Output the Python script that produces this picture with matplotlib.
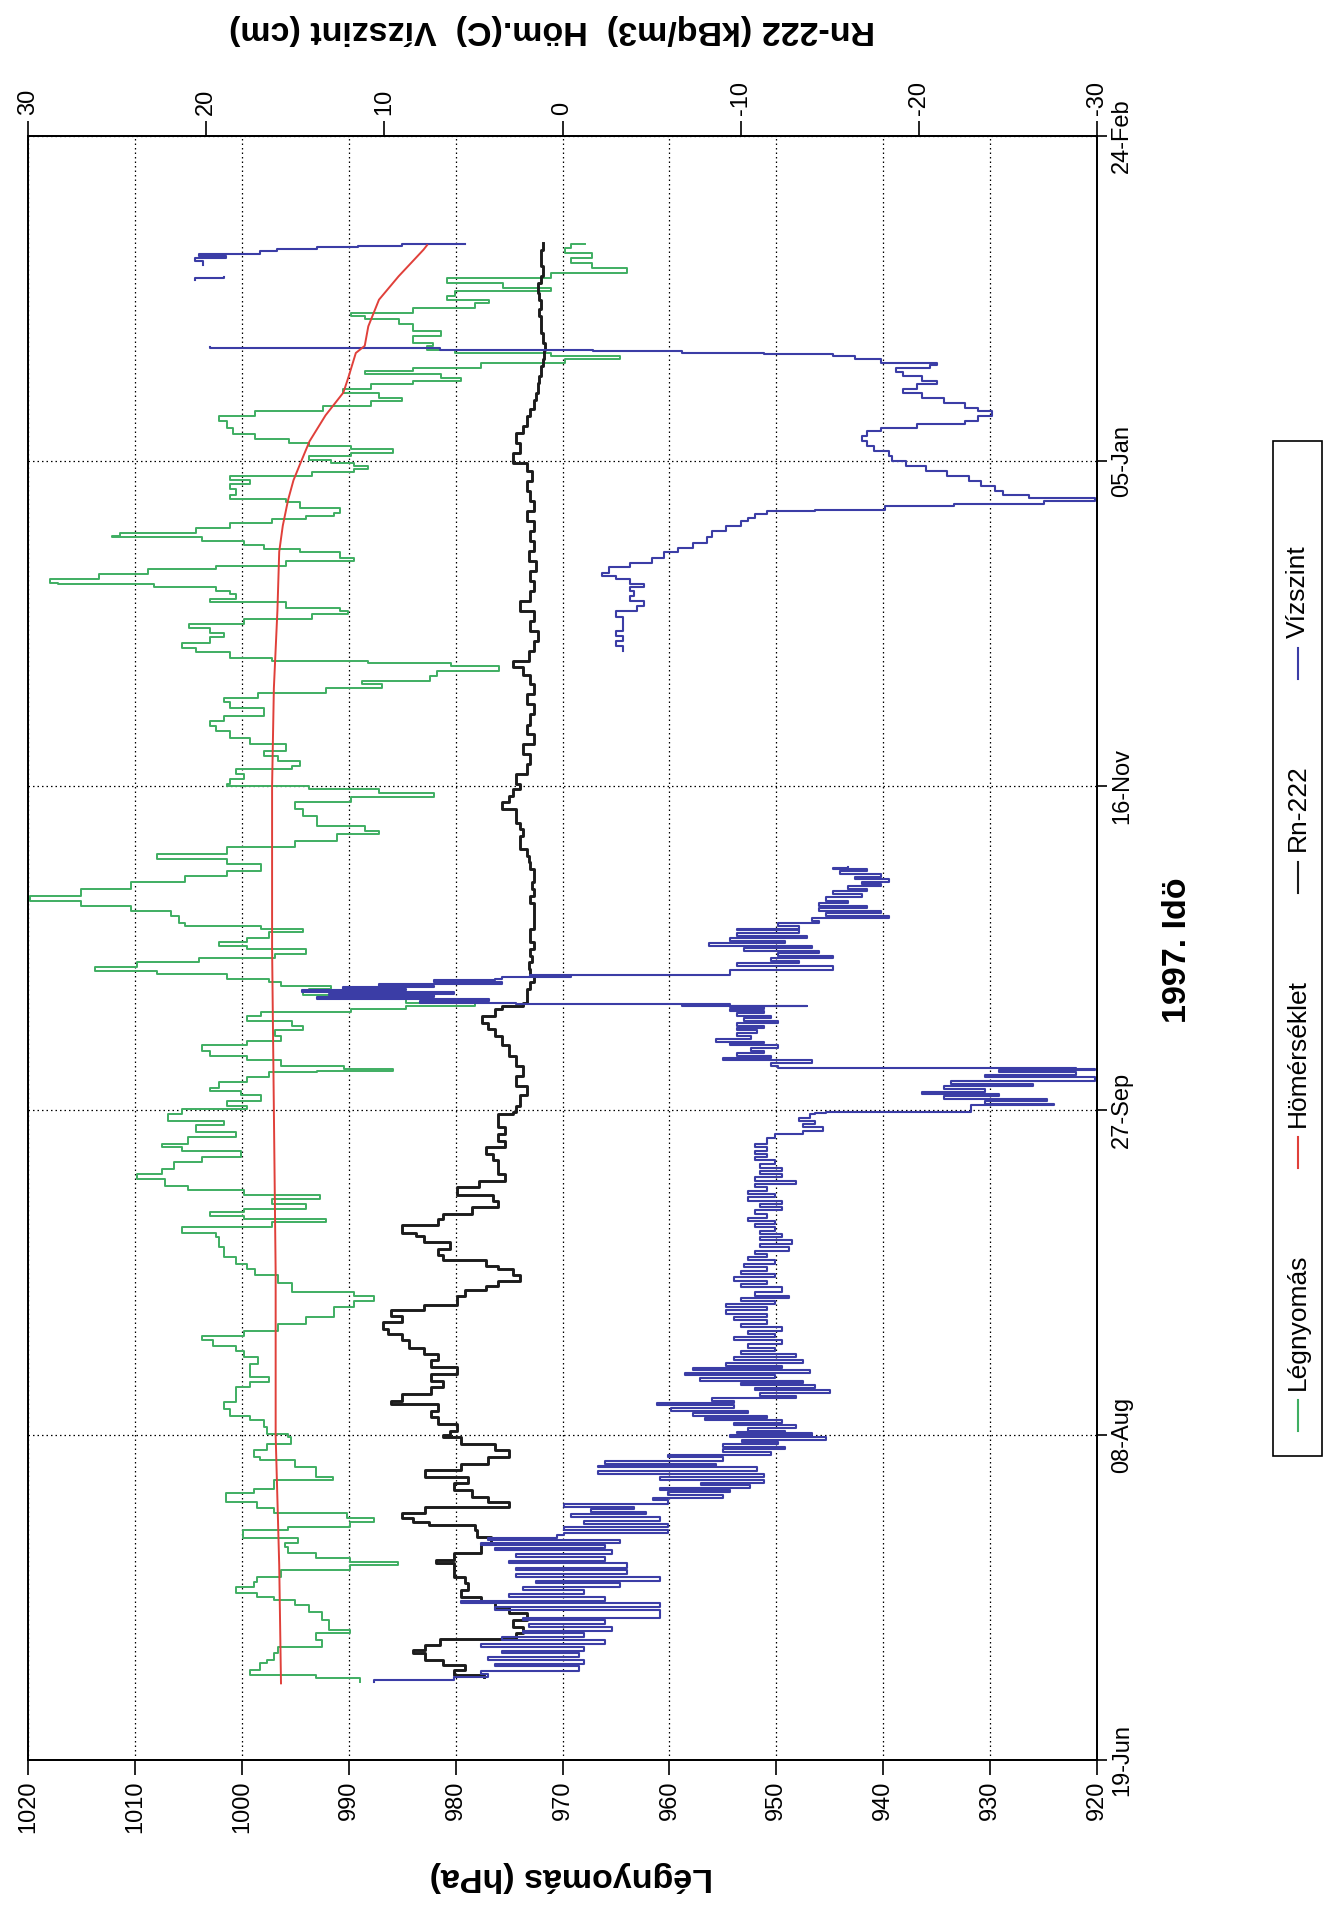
import numpy as np
import matplotlib
matplotlib.use("Agg")
import matplotlib.pyplot as plt
from matplotlib.lines import Line2D
from matplotlib.patches import Rectangle

plt.rcParams['font.family'] = ['Liberation Sans', 'DejaVu Sans']

# ---------------- data (days after 19-Jun-1997) ----------------
date_ticks = [0, 50, 100, 150, 200, 250]
date_labels = ['19-Jun', '08-Aug', '27-Sep', '16-Nov', '05-Jan', '24-Feb']
p_ticks = [1020, 1010, 1000, 990, 980, 970, 960, 950, 940, 930, 920]
r_ticks = [30, 20, 10, 0, -10, -20, -30]

# Légnyomás (hPa)
green_day = [12.05, 12.56, 13.08, 13.85, 14.87, 15.38, 16.41, 17.44, 18.46, 19.49, 20.0, 21.54, 22.82, 23.85, 24.62, 25.13, 25.64, 26.67, 27.44, 28.21, 29.23, 30.0, 30.51, 31.03, 31.79, 32.82, 33.33, 34.1, 35.38, 35.9, 36.67, 37.18, 37.95, 38.72, 39.74, 40.51, 41.03, 41.79, 43.08, 43.59, 44.36, 45.13, 46.15, 46.67, 47.69, 48.72, 49.74, 50.26,
             51.2, 52.3, 53.0, 54.1, 55.1, 56.4, 57.4, 58.2, 58.9, 60.0, 61.0, 62.0, 63.0, 63.8, 64.6, 65.3, 66.1, 67.1, 68.2, 69.7, 70.7, 71.5, 72.0, 72.8, 73.5, 74.6, 75.6, 76.4, 77.4, 78.2, 78.9, 80.5, 81.2, 82.0, 82.8, 83.3, 83.8, 84.3, 84.8, 85.6, 86.4, 86.9, 87.7, 88.4, 89.4, 90.2, 91.0, 92.0, 92.8, 93.8, 94.3, 94.8, 95.9, 96.6, 97.7, 98.4, 99.4,
             100.2, 100.7, 101.5, 102.3, 103.0, 103.5, 104.3, 105.1, 105.9, 106.1, 106.4, 106.9, 107.7, 108.4, 109.2, 110.0, 110.7, 111.5, 112.3, 113.0, 113.8, 114.6, 115.1, 115.6, 116.1, 116.6, 117.1, 117.7, 118.2, 118.7, 119.2, 119.7, 120.2, 121.0, 121.5, 122.0, 122.8, 123.5, 124.1, 124.8, 125.3, 125.9, 126.6, 127.4, 127.9, 128.4, 128.9, 130.0, 130.7, 131.5, 132.3, 133.0, 134.1, 135.1, 136.1, 136.9, 137.9, 138.7, 139.4, 140.5, 141.5, 142.5, 143.0, 143.8, 144.6, 145.3, 146.4, 147.4, 148.2, 148.9, 149.4, 149.9,
             150.2, 151.0, 151.8, 152.5, 153.0, 153.8, 154.6, 155.3, 156.4, 157.4, 158.4, 159.2, 160.0, 160.7, 161.5, 162.0, 162.8, 163.5, 164.3, 165.1, 165.6, 166.1, 166.9, 167.7, 168.2, 168.4, 168.9, 169.2, 169.7, 170.5, 171.2, 172.0, 172.8, 173.5, 174.3, 174.8, 175.6, 176.4, 176.9, 177.4, 178.2, 178.7, 179.5, 180.0, 180.5, 181.0, 181.2, 181.8, 182.5, 183.3, 183.8, 184.6, 185.1, 185.9, 186.4, 187.1, 187.7, 188.2, 188.4, 188.9, 189.7, 190.5, 191.0, 191.5, 192.0, 192.8, 193.6, 194.1, 194.8, 195.6, 196.4, 197.1, 197.7, 198.2, 198.7, 199.2,
             199.7, 200.2, 200.7, 201.2, 201.8, 202.3, 202.8, 203.3, 204.1, 205.1, 206.1, 206.9, 207.7, 208.4, 209.2, 209.7, 210.5, 211.0, 211.8, 212.3, 212.8, 213.3, 213.8, 214.3, 215.1, 215.6, 216.1, 216.6, 217.1, 217.7, 218.2, 219.2, 220.0, 221.0, 221.8, 222.3, 222.8, 223.5, 224.3, 224.8, 225.3, 226.1, 226.6, 227.4, 228.2, 228.9, 229.7, 230.5, 231.2, 232.0, 232.8, 233.3]
green_hpa = [988.9, 993.1, 999.2, 998.3, 997.6, 997.0, 996.6, 992.5, 993.1, 989.9, 991.8, 992.5, 993.7, 995.0, 997.0, 998.6, 1000.5, 998.9, 998.6, 996.3, 989.9, 985.4, 989.9, 993.1, 995.7, 996.0, 994.7, 999.9, 995.7, 989.9, 987.6, 990.2, 997.0, 998.6, 1001.5, 1001.5, 998.9, 997.0, 991.5, 993.1, 993.1, 995.0, 998.3, 998.9, 997.6, 995.4, 995.7, 997.6,
             997.9, 999.2, 1001.1, 1001.7, 1000.5, 1000.5, 999.2, 997.5, 999.2, 999.2, 998.5, 999.8, 1000.5, 1002.7, 1003.7, 999.8, 996.6, 994.0, 991.4, 989.5, 987.6, 989.5, 995.3, 995.3, 996.6, 998.8, 999.5, 1000.5, 1001.7, 1001.7, 1002.1, 1002.4, 1005.6, 997.2, 992.1, 999.8, 1003.0, 999.8, 994.0, 997.2, 992.7, 999.8, 1005.0, 1007.2, 1009.8, 1007.5, 1006.3, 1003.7, 1000.1, 1005.6, 1007.5, 1005.0, 1000.5, 1004.3, 1001.7, 1006.9, 1005.6,
             999.5, 1001.4, 998.2, 1000.1, 1003.0, 1002.1, 999.5, 997.5, 993.0, 985.9, 990.4, 996.3, 999.5, 1003.0, 1003.7, 999.5, 996.3, 996.9, 994.3, 995.3, 999.5, 998.2, 989.8, 984.6, 978.2, 984.6, 991.1, 994.3, 993.7, 991.7, 996.3, 997.5, 1001.4, 1007.9, 1013.7, 1009.8, 1004.0, 996.9, 994.0, 999.5, 1002.1, 999.5, 997.5, 994.3, 998.2, 1005.3, 1005.9, 1006.6, 1010.4, 1015.0, 1019.8, 1015.0, 1010.4, 1005.3, 1001.4, 998.2, 1001.4, 1007.9, 1001.4, 995.0, 991.1, 987.2, 988.5, 993.0, 993.0, 994.3, 995.0, 989.8, 982.0, 987.2, 993.7, 1001.4,
             1001.1, 999.8, 1000.5, 995.3, 994.6, 996.6, 997.9, 995.9, 999.2, 1001.1, 1002.4, 1003.0, 1001.7, 997.9, 997.9, 1001.1, 1001.7, 998.5, 992.1, 986.9, 988.8, 982.4, 981.7, 975.9, 975.9, 980.4, 988.2, 997.2, 1001.1, 1004.3, 1005.6, 1003.0, 1001.7, 1003.0, 1004.9, 999.8, 993.4, 990.1, 990.8, 995.9, 1003.0, 1000.5, 1001.1, 1002.4, 1008.2, 1017.2, 1017.9, 1013.4, 1008.8, 1002.4, 995.9, 989.5, 990.8, 994.6, 997.9, 999.8, 1003.7, 1012.1, 1011.4, 1004.3, 1001.1, 997.2, 994.0, 991.4, 990.8, 994.6, 995.9, 1001.1, 1000.5, 1001.1, 999.2, 1001.1, 993.4, 989.5, 988.2, 989.5,
             991.7, 993.7, 989.8, 985.9, 989.8, 993.7, 995.6, 998.8, 1000.8, 1001.4, 1002.1, 998.8, 992.4, 987.9, 985.0, 987.2, 990.5, 987.9, 984.0, 979.5, 981.4, 988.5, 984.0, 977.6, 969.8, 964.6, 971.1, 980.1, 982.7, 982.1, 984.0, 981.4, 984.0, 985.3, 988.5, 989.8, 984.0, 978.2, 976.9, 980.8, 980.1, 971.1, 975.6, 980.8, 971.1, 964.0, 967.2, 969.2, 967.2, 969.8, 969.2, 967.9]

# Hömérséklet (C)
red_day = [11.8, 30, 50, 75, 100, 125, 150, 165, 177, 186, 190, 194, 197, 199.7, 203, 207, 210.5, 213, 216.6, 217.7, 220.7, 224.8, 228.4, 232.5, 233.2]
red_val = [15.8, 15.9, 16.1, 16.1, 16.2, 16.3, 16.3, 16.2, 16.0, 15.9, 15.7, 15.4, 15.1, 14.7, 14.2, 13.3, 12.3, 12.0, 11.6, 11.1, 10.9, 10.3, 9.2, 7.8, 7.6]

# Rn-222 (kBq/m3)
rn_day = [12.8, 13.1, 13.8, 14.6, 15.4, 16.4, 16.9, 17.7, 18.7, 19.5, 20.5, 21.5, 22.6, 23.6, 24.4, 25.1, 26.2, 27.2, 28.2, 29.2, 30.3, 30.8, 31.8, 33.3, 34.4, 35.4, 36.2, 36.7, 37.2, 38.0, 39.0, 39.7, 40.5, 41.5, 42.6, 43.6, 44.6, 45.6, 46.7, 47.7, 48.7, 49.7,
          50.0, 50.7, 51.8, 52.8, 53.8, 54.8, 55.3, 56.4, 57.4, 58.4, 59.4, 60.5, 61.5, 62.5, 63.5, 64.6, 65.6, 66.4, 67.4, 68.4, 69.2, 70.0, 70.7, 71.5, 72.3, 73.0, 73.8, 74.6, 75.6, 76.1, 76.9, 77.7, 78.7, 79.7, 80.7, 81.2, 82.3, 83.3, 84.1, 85.1, 86.1, 86.9, 87.7, 88.2, 89.2, 90.2, 91.2, 92.3, 93.3, 94.3, 95.3, 96.4, 97.4, 98.4, 99.4,
          99.7, 100.7, 102.3, 103.8, 105.3, 106.9, 108.4, 110.0, 111.5, 112.5, 113.5, 114.6, 115.6, 116.1, 116.6, 117.7, 118.7, 119.7, 120.7, 121.8, 122.8, 123.8, 124.8, 125.9, 126.9, 127.9, 128.9, 130.0, 131.0, 132.0, 133.0, 134.1, 135.1, 136.1, 137.1, 138.2, 139.2, 140.2, 141.2, 142.3, 143.3, 144.3, 145.3, 146.4, 147.4, 148.4, 149.4,
          150.2, 151.8, 153.3, 154.8, 156.4, 157.9, 159.4, 161.0, 162.5, 164.1, 165.6, 167.1, 168.2, 169.2, 170.7, 172.3, 173.8, 175.3, 176.9, 178.4, 180.0, 181.5, 183.0, 184.6, 186.1, 187.7, 189.2, 190.7, 192.3, 193.8, 195.3, 196.9, 198.4,
          199.7, 201.2, 202.8, 204.3, 205.4, 206.9, 207.9, 209.4, 210.5, 212.0, 213.0, 214.6, 215.6, 217.1, 218.2, 219.7, 220.7, 222.3, 223.3, 224.8, 225.9, 227.4, 228.4, 230.0, 231.0, 232.5, 233.6]
rn_val = [4.4, 6.1, 5.5, 6.7, 7.7, 8.4, 7.7, 6.9, 2.6, 2.2, 2.8, 2.0, 3.0, 3.8, 4.6, 5.7, 5.3, 5.5, 6.1, 6.1, 7.1, 6.1, 4.6, 4.0, 4.8, 4.9, 7.5, 8.4, 9.0, 7.7, 3.0, 4.2, 5.1, 6.1, 5.3, 7.7, 5.7, 4.2, 3.0, 3.8, 5.7, 6.7,
          6.3, 5.9, 7.0, 7.4, 7.0, 9.6, 9.0, 7.4, 6.7, 7.4, 5.9, 7.4, 7.0, 7.8, 8.6, 9.0, 9.8, 10.1, 9.0, 9.6, 7.8, 5.9, 5.9, 5.5, 4.3, 3.6, 2.4, 2.8, 3.6, 4.3, 6.7, 7.0, 6.3, 7.8, 8.2, 9.0, 7.0, 6.7, 5.1, 3.6, 3.9, 5.9, 5.9, 4.7, 3.2, 3.6, 3.6, 3.9, 4.3, 3.2, 3.6, 3.2, 3.6, 3.6, 2.8,
          2.6, 2.4, 2.0, 2.6, 2.2, 2.6, 3.0, 3.4, 3.8, 4.2, 4.5, 3.8, 3.4, 2.2, 2.0, 2.0, 1.8, 1.6, 1.8, 1.9, 1.7, 1.8, 1.6, 1.8, 1.8, 1.6, 1.6, 1.6, 1.6, 1.8, 1.6, 1.7, 1.6, 1.6, 1.8, 1.9, 2.0, 2.4, 2.4, 2.2, 2.4, 2.6, 2.6, 3.4, 3.0, 2.8, 2.4,
          2.6, 2.0, 1.8, 2.2, 1.6, 2.0, 1.8, 1.6, 2.0, 1.6, 1.8, 2.2, 2.8, 1.9, 1.6, 1.4, 1.8, 1.6, 2.4, 1.8, 1.6, 1.8, 1.5, 1.9, 1.6, 1.8, 1.6, 2.0, 1.6, 1.8, 2.0, 1.7, 2.0,
          2.8, 2.4, 2.6, 2.2, 2.0, 1.8, 1.6, 1.5, 1.4, 1.3, 1.2, 1.1, 1.05, 1.0, 1.1, 1.2, 1.2, 1.3, 1.2, 1.3, 1.4, 1.2, 1.1, 1.2, 1.2, 1.1, 1.1]

# Vízszint (cm); nan = gap in the record
nan = float('nan')
ws_day = [12.05, 12.3, 12.8, 13.3, 13.7, 14.4, 14.8, 15.4, 15.8, 16.4, 16.8, 17.4, 17.8, 18.5, 18.9, 19.5, 19.9, 20.5, 20.9, 21.5, 21.9, 23.1, 23.5, 24.1, 24.5, 25.1, 25.5, 26.2, 26.6, 27.2, 27.6, 28.2, 28.6, 29.2, 29.6, 30.3, 30.7, 31.3, 31.7, 32.3, 32.7, 33.1, 33.4, 33.8, 34.2, 34.6, 35.0, 35.4, 35.8, 36.4, 36.8, 37.4, 37.8, 38.2, 38.6, 39.0, 39.4, 40.0, 40.4, 40.8, 41.2, 41.5, 41.9, 42.3, 42.7, 43.1, 43.5, 44.1, 44.5, 45.1, 45.3, 45.6, 46.0, 46.7, 47.0, 47.4, 47.8, 48.2, 48.6, 49.0, 49.3, 49.7, 50.0, 50.3, 50.5,
          50.7, 51.1, 51.5, 51.9, 52.3, 52.7, 53.0, 53.4, 53.8, 54.2, 54.6, 55.0, 55.3, 55.7, 56.1, 56.5, 56.9, 57.3, 57.7, 58.1, 58.4, 58.8, 59.2, 59.6, 60.0, 60.4, 60.7, 61.1, 61.5, 62.0, 62.5, 63.0, 63.5, 64.0, 64.6, 65.1, 65.6, 66.1, 66.6, 67.1, 67.7, 68.2, 68.7, 69.2, 69.7, 70.2, 70.7, 71.1, 71.5, 72.1, 72.8, 73.3, 73.8, 74.3, 74.8, 75.3, 75.9, 76.4, 76.9, 77.4, 77.9, 78.4, 78.9, 79.4, 80.0, 80.5, 81.0, 81.5, 82.0, 82.5, 83.0, 83.5, 84.1, 84.6, 85.1, 85.6, 86.1, 86.6, 87.1, 87.6, 88.2, 88.7, 89.2, 89.7, 90.2, 90.7, 91.2, 91.7, 92.3, 92.8, 93.3, 93.8, 94.3, 94.8, 95.3, 95.8, 96.4, 96.9, 97.4, 97.9, 98.4, 98.9, 99.4, 99.6,
          99.7, 100.5, 100.8, 101.0, 101.4, 101.8, 102.2, 102.5, 102.9, 103.3, 103.7, 104.1, 104.5, 105.1, 105.5, 105.9, 106.2, 106.4, 106.5, 106.9, 107.3, 107.7, 108.0, 108.4, 108.8, 109.2, 109.6, 110.0, 110.3, 110.5, 111.0, 111.5, 111.9, 112.3, 112.7, 113.0, 113.4, 113.8, 114.2, 114.6, 115.0, 115.3, 115.6, 115.9, 116.0, 116.1, 116.3, 116.4, 116.6, 116.8, 117.1, 117.4, 117.7, 117.9, 118.2, 118.5, 118.7, 119.0, 119.2, 119.5, 119.7, 120.0, 120.2, 120.5, 120.7, 120.9, 121.2, 121.6, 122.3, 122.7, 123.0, 123.4, 123.8, 124.2, 124.6, 125.0, 125.3, 125.7, 126.1, 126.5, 126.9, 127.3, 127.7, 128.0, 128.4, 128.8, 129.2, 129.6, 130.0, 130.4, 130.7, 131.1, 131.5, 131.9, 132.3, 132.8, 133.3, 133.7, 134.1, 134.5, 134.8, 135.2, 135.6, 136.0, 136.4, 136.8, 137.1, 137.3,
          137.4,
          170.7, 171.5, 172.3, 173.0, 173.8, 174.8, 175.9, 176.9, 177.7, 178.4, 179.2, 180.0, 180.5, 181.0, 181.8, 182.3, 182.8, 183.6, 184.3, 185.1, 185.9, 186.6, 187.4, 188.2, 189.2, 190.0, 190.7, 191.2, 191.8, 192.3, 192.5, 193.0, 193.3, 193.8, 194.3, 194.8, 195.3, 196.1, 196.9, 197.7, 198.4, 199.2, 200.0, 200.7, 201.5, 202.3, 203.0, 203.8, 204.6, 205.1, 205.6, 206.1, 206.9, 207.7, 208.2, 208.9, 209.7, 210.5, 211.0, 211.8, 212.3, 213.0, 213.6, 214.3, 214.8, 215.1, 215.6, 216.1, 216.4, 216.6, 216.9, 217.1, 217.4,
          217.5, 227.9, 228.2, 228.3,
          230.2, 230.7, 231.2, 231.6, 231.8, 232.3, 232.6, 232.9, 233.1, 233.3]
ws_val = [10.6, 6.1, 4.2, 4.6, -0.9, 3.8, -1.2, 4.2, -0.9, 3.4, -1.2, 4.6, -2.4, 3.4, -1.2, 2.2, -2.8, 1.9, -2.4, 2.2, -5.5, 3.8, -5.5, 5.7, -2.4, 3.0, -1.2, 2.2, -3.2, 1.5, -5.5, 2.6, -3.6, 2.6, -3.6, 3.0, -2.4, 2.6, -2.8, 3.8, -2.4, 4.6, -3.2, 4.2, 0.3, -0.1, -5.9, -0.1, -5.9, -1.2, -5.5, -0.5, -4.7, -1.6, -4.0, -0.1, -5.9, -5.1, -9.0, -5.9, -9.4, -5.5, -10.5, -7.8, -11.3, -5.5, -11.3, -2.0, -10.9, -2.0, -8.6, -2.4, -9.0, -5.9, -11.7, -9.0, -12.5, -9.0, -12.1, -10.1, -14.8, -9.4, -14.0, -9.8, -12.5,
          -10.4, -13.1, -9.6, -12.3, -8.0, -11.5, -7.3, -10.4, -6.1, -9.6, -5.3, -9.6, -8.4, -13.1, -11.1, -15.0, -10.8, -14.2, -10.0, -13.5, -7.7, -11.9, -6.9, -13.9, -7.3, -12.3, -9.2, -13.5, -9.6, -13.1, -10.0, -11.9, -10.4, -12.3, -9.6, -11.9, -10.4, -12.3, -10.0, -11.5, -9.6, -11.5, -9.2, -11.5, -9.2, -11.9, -10.0, -12.7, -10.8, -12.3, -10.0, -11.5, -9.6, -11.9, -10.0, -11.5, -10.2, -11.9, -10.4, -11.5, -10.8, -12.7, -11.1, -12.9, -11.1, -12.3, -11.1, -11.9, -10.8, -11.9, -10.4, -11.5, -10.8, -12.3, -11.1, -12.3, -10.4, -11.9, -10.4, -11.5, -10.8, -13.1, -10.8, -12.3, -11.1, -12.3, -11.1, -11.9, -10.8, -11.5, -10.8, -11.5, -10.8, -11.5, -11.5, -11.9, -13.5, -14.6, -13.5, -14.2, -13.3, -13.9, -14.2, -14.8,
          -22.9, -22.9, -27.6, -23.7, -27.2, -21.4, -24.5, -20.2, -23.7, -21.4, -26.4, -21.8, -29.9, -23.7, -28.8, -24.5, -29.9, -28.8, -12.1, -11.7, -14.0, -9.0, -11.7, -9.8, -11.3, -10.6, -12.1, -9.4, -11.3, -8.6, -10.6, -9.8, -10.9, -9.8, -11.3, -9.8, -12.1, -10.2, -11.7, -9.8, -11.3, -9.4, -11.3, -9.4, -13.7, -6.7, -9.4, 2.6, 8.0, 4.1, 13.8, 7.2, 13.1, 6.1, 14.6, 8.8, 12.3, 7.2, 10.3, 3.4, 7.2, 3.8, 3.4, -0.5, 1.8, -9.4, -9.4, -15.2, -9.8, -13.3, -11.7, -15.2, -12.1, -14.4, -10.2, -14.0, -8.2, -12.5, -9.4, -13.7, -9.8, -13.3, -9.8, -13.3, -12.1, -14.4, -14.0, -18.3, -14.8, -17.9, -14.4, -17.1, -14.4, -16.0, -14.8, -16.8, -15.2, -17.1, -16.0, -17.9, -16.8, -18.3, -16.4, -17.9, -15.6, -17.1, -15.2, -16.0,
          nan,
          -3.4, -3.0, -3.4, -3.0, -3.4, -3.4, -3.0, -4.2, -4.6, -3.8, -4.0, -3.8, -4.6, -3.8, -3.0, -2.2, -2.6, -3.8, -5.0, -5.7, -6.5, -7.3, -8.1, -8.4, -9.2, -10.0, -10.4, -10.8, -11.5, -14.2, -18.1, -22.0, -27.0, -29.9, -26.2, -24.7, -24.3, -23.5, -22.8, -21.6, -20.4, -19.3, -18.5, -18.3, -17.5, -17.1, -16.8, -17.1, -17.9, -19.9, -22.6, -23.3, -24.1, -23.3, -22.6, -21.4, -20.2, -19.1, -19.9, -21.0, -20.2, -19.1, -18.7, -20.6, -21.0, -17.9, -16.4, -15.2, -11.3, -6.7, -1.7, 6.9, 19.8,
          nan, 20.6, 19.0, nan,
          20.2, 20.6, 18.9, 20.4, 17.0, 16.0, 13.8, 11.5, 9.0, 5.5]

# ---------------- figure ----------------
W, H = 1335, 1910
fig = plt.figure(figsize=(W / 100, H / 100), dpi=100)
ax = fig.add_axes([28 / W, 150 / H, 1069 / W, 1624 / H])

C_GREEN = '#3fae62'
C_RED = '#e0403a'
C_BLACK = '#1c1c1c'
C_BLUE = '#3b3da6'

ax.set_xlim(1020, 920)
ax.set_ylim(0, 250)
ax.set_xticks(p_ticks)
ax.set_xticklabels([str(t) for t in p_ticks])
ax.set_yticks(date_ticks)
ax.set_yticklabels(date_labels)
ax.yaxis.tick_right()
ax.tick_params(axis='x', direction='out', length=11, width=1.2, pad=4,
               labelsize=17, labelrotation=90)
ax.tick_params(axis='y', left=False, right=True, labelleft=False, labelright=True,
               direction='out', length=7, width=1.2, pad=3, labelsize=17)
for lab in ax.get_yticklabels():
    lab.set_rotation(90)
    lab.set_va('center')
ax.grid(True, axis='both', color='black', linestyle=(0, (1.2, 2.4)), linewidth=0.9)
for s in ax.spines.values():
    s.set_linewidth(1.3)

ax2 = ax.twiny()
ax2.set_xlim(30, -30)
ax2.set_xticks(r_ticks)
ax2.set_xticklabels([str(t) for t in r_ticks])
ax2.tick_params(axis='x', direction='out', length=11, width=1.2, pad=4,
                labelsize=17, labelrotation=90)
for s in ax2.spines.values():
    s.set_linewidth(1.3)

ax.plot(green_hpa, green_day, color=C_GREEN, lw=1.4, drawstyle='steps-pre')
ax2.plot(rn_val, rn_day, color=C_BLACK, lw=2.1, drawstyle='steps-pre')
ax2.plot(ws_val, ws_day, color=C_BLUE, lw=1.5, drawstyle='steps-pre')
ax2.plot(red_val, red_day, color=C_RED, lw=1.4)
ax2.set_ylim(0, 250)

# axis titles (the whole chart is turned a quarter turn)
fig.text(552 / W, 1 - 29 / H, 'Rn-222 (kBq/m3)  Höm.(C)  Vízszint (cm)', rotation=180,
         ha='center', va='center', fontsize=24.5, fontweight='bold')
fig.text(571 / W, 1 - 1876 / H, 'Légnyomás (hPa)', rotation=180,
         ha='center', va='center', fontsize=24.5, fontweight='bold')
fig.text(1178 / W, 1 - 950 / H, '1997. Idö', rotation=90,
         ha='center', va='center', fontsize=24.5, fontweight='bold')

# legend (drawn turned, in figure coordinates)
fig.add_artist(Rectangle((1273 / W, 1 - 1456 / H), 49 / W, 1015 / H, fill=False,
                         lw=1.2, edgecolor='black', transform=fig.transFigure))
lx = 1298 / W
entries = [('Légnyomás', C_GREEN, 1431, 1400, 1322),
           ('Hömérséklet', C_RED, 1168, 1137, 1053),
           ('Rn-222', C_BLACK, 893, 862, 808),
           ('Vízszint', C_BLUE, 679, 648, 592)]
for name, col, y0, y1, yc in entries:
    fig.add_artist(Line2D([lx, lx], [1 - y0 / H, 1 - y1 / H], color=col, lw=1.5,
                          transform=fig.transFigure))
    fig.text(lx, 1 - yc / H, name, rotation=90, ha='center', va='center', fontsize=19)

fig.savefig('out.png', dpi=100)
